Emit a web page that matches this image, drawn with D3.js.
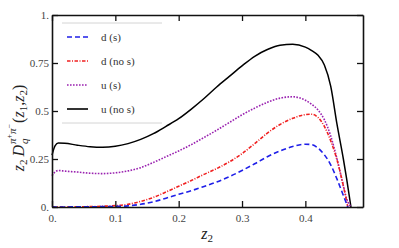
<!DOCTYPE html>
<html lang="en">
<head>
<meta charset="UTF-8">
<title>Dihadron fragmentation</title>
<style>
  body { margin: 0; background: #fff; }
  svg text { font-family: "Liberation Serif", "Times New Roman", Times, serif; }
</style>
</head>
<body>
<script src="https://cdn.jsdelivr.net/npm/d3@7/dist/d3.min.js"></script>
<script>
// values
var zD = [0, 0.02, 0.04, 0.06, 0.08, 0.1, 0.12, 0.14, 0.16, 0.18, 0.2, 0.22, 0.24, 0.26, 0.28, 0.3, 0.32, 0.34, 0.36, 0.38, 0.4, 0.41, 0.42, 0.43, 0.44, 0.45, 0.46, 0.467];
var dS   = [0, 0, 0.001, 0.001, 0.002, 0.003, 0.006, 0.014, 0.027, 0.046, 0.066, 0.085, 0.107, 0.13, 0.158, 0.19, 0.225, 0.262, 0.292, 0.315, 0.327, 0.325, 0.307, 0.272, 0.22, 0.145, 0.06, 0];
var dNoS = [0, 0, 0.001, 0.002, 0.004, 0.007, 0.014, 0.029, 0.05, 0.078, 0.108, 0.138, 0.17, 0.2, 0.235, 0.278, 0.33, 0.385, 0.43, 0.462, 0.481, 0.483, 0.466, 0.42, 0.345, 0.245, 0.11, 0];

var zU = [0, 0.005, 0.01, 0.02, 0.04, 0.06, 0.08, 0.1, 0.12, 0.14, 0.16, 0.18, 0.2, 0.22, 0.24, 0.26, 0.28, 0.3, 0.32, 0.34, 0.36, 0.38, 0.4, 0.41, 0.42, 0.43, 0.44, 0.45, 0.46, 0.465, 0.472];
var uS   = [0.163, 0.183, 0.19, 0.187, 0.182, 0.176, 0.174, 0.178, 0.188, 0.205, 0.232, 0.262, 0.292, 0.325, 0.362, 0.4, 0.44, 0.48, 0.515, 0.545, 0.567, 0.574, 0.556, 0.535, 0.505, 0.455, 0.37, 0.25, 0.11, 0.045, 0];
var uNoS = [0.27, 0.32, 0.333, 0.332, 0.322, 0.314, 0.311, 0.316, 0.33, 0.352, 0.382, 0.42, 0.46, 0.51, 0.565, 0.625, 0.68, 0.735, 0.785, 0.82, 0.843, 0.848, 0.833, 0.815, 0.79, 0.74, 0.63, 0.43, 0.25, 0.15, 0];

var xTicks = [0, 0.1, 0.2, 0.3, 0.4];
var xTickLabels = ["0.", "0.1", "0.2", "0.3", "0.4"];
var yTicks = [0, 0.25, 0.5, 0.75, 1];
var yTickLabels = ["0.", "0.25", "0.5", "0.75", "1."];

var seriesNames = ["d (s)", "d (no s)", "u (s)", "u (no s)"];
var seriesColors = ["#1f1fe8", "#f02020", "#9a22b0", "#000000"];
var seriesDash = ["5,3", "3.5,1.5,1,1.5", "1.6,1.4", null];

var width = 399, height = 248;
var margin = {top: 15, right: 36, bottom: 41, left: 52};
var w = width - margin.left - margin.right;
var h = height - margin.top - margin.bottom;

var svg = d3.select("body").append("svg")
    .attr("width", width)
    .attr("height", height);

var x = d3.scaleLinear().domain([0, 0.491]).range([0, w]);
var y = d3.scaleLinear().domain([0, 1]).range([h, 0]);

var g = svg.append("g")
    .attr("transform", "translate(" + margin.left + "," + margin.top + ")");

// legend frame lines
var lg = g.append("g").attr("transform", "translate(10,8)");
lg.append("line").attr("x1", 0).attr("x2", 100).attr("y1", 0).attr("y2", 0)
    .attr("stroke", "#d4d4d4").attr("stroke-width", 1);
lg.append("line").attr("x1", 0).attr("x2", 100).attr("y1", 100).attr("y2", 100)
    .attr("stroke", "#d4d4d4").attr("stroke-width", 1);

var sets = [
  {z: zD, v: dS},
  {z: zD, v: dNoS},
  {z: zU, v: uS},
  {z: zU, v: uNoS}
];

var line = d3.line()
    .x(function(d) { return x(d[0]); })
    .y(function(d) { return y(d[1]); })
    .curve(d3.curveMonotoneX);

// black first so the dashed ones stay on top
[3, 2, 1, 0].forEach(function(i) {
  var pts = sets[i].z.map(function(z, j) { return [z, sets[i].v[j]]; });
  g.append("path")
      .datum(pts)
      .attr("fill", "none")
      .attr("stroke", seriesColors[i])
      .attr("stroke-width", i == 3 ? 1.5 : 1.6)
      .attr("stroke-dasharray", seriesDash[i])
      .attr("d", line);
});

// legend entries
seriesNames.forEach(function(name, i) {
  var yy = 14 + i * 24;
  lg.append("line")
      .attr("x1", 5).attr("x2", 26).attr("y1", yy).attr("y2", yy)
      .attr("stroke", seriesColors[i])
      .attr("stroke-width", 1.6)
      .attr("stroke-dasharray", seriesDash[i]);
  lg.append("text")
      .attr("x", 39).attr("y", yy + 4)
      .attr("font-size", "11px")
      .attr("fill", "#333")
      .text(name);
});

// axes, ticks inward on all four sides
var xAxis = d3.axisBottom(x).tickValues(xTicks).tickSizeInner(-6).tickSizeOuter(0)
    .tickFormat(function(d, i) { return xTickLabels[i]; });
var xTop = d3.axisTop(x).tickValues(xTicks).tickSizeInner(-6).tickSizeOuter(0).tickFormat("");
var yAxis = d3.axisLeft(y).tickValues(yTicks).tickSizeInner(-6).tickSizeOuter(0)
    .tickFormat(function(d, i) { return yTickLabels[i]; });
var yRight = d3.axisRight(y).tickValues(yTicks).tickSizeInner(-6).tickSizeOuter(0).tickFormat("");

var ax = [
  g.append("g").attr("transform", "translate(0," + h + ")").call(xAxis),
  g.append("g").call(xTop),
  g.append("g").call(yAxis),
  g.append("g").attr("transform", "translate(" + w + ",0)").call(yRight)
];
ax.forEach(function(a) {
  a.attr("font-family", null);
  a.select(".domain").attr("stroke", "#111").attr("stroke-width", 1.6);
  a.selectAll(".tick line").attr("stroke", "#111").attr("stroke-width", 1.3);
  a.selectAll(".tick text")
      .attr("font-size", "11px")
      .attr("fill", "#444");
});
ax[0].selectAll(".tick text").attr("dy", "1.05em").attr("y", 3);
ax[2].selectAll(".tick text").attr("x", -3).attr("dy", "0.32em");

// x axis title
svg.append("text")
    .attr("x", margin.left + x(0.245))
    .attr("y", 239)
    .attr("text-anchor", "middle")
    .attr("font-size", "16px")
    .attr("font-style", "italic")
    .attr("fill", "#222")
    .html('z<tspan font-size="11px" font-style="normal" dy="3">2</tspan>');

// y axis title: pieces placed one after another, then centred
var yl = svg.append("g").attr("transform", "translate(24,128) rotate(-90)");
var inner = yl.append("g");
var cx = 0;
function piece(t, size, dy, italic, advance) {
  var el = inner.append("text")
      .attr("x", cx).attr("y", dy)
      .attr("font-size", size + "px")
      .attr("font-style", italic ? "italic" : "normal")
      .attr("fill", "#222")
      .text(t);
  var len = el.node().getComputedTextLength();
  if (advance !== false) cx += len;
  return len;
}
piece("z", 16, 0, true);
piece("2", 11, 3, false);
cx += 3;
piece("D", 16, 0, true);
var sx = cx + 1;
cx = sx;
var qw = piece("q", 11, 4, true, false);
cx = sx;
piece("π", 11, -8, true);
piece("+", 8, -12, false);
piece("π", 11, -8, true);
piece("−", 8, -12, false);
cx = Math.max(cx, sx + qw) + 1;
piece("(", 16, 0, false);
piece("z", 16, 0, true);
piece("1", 11, 3, false);
piece(",", 16, 0, false);
piece("z", 16, 0, true);
piece("2", 11, 3, false);
piece(")", 16, 0, false);
inner.attr("transform", "translate(" + (-cx / 2) + ",0)");
</script>
</body>
</html>
